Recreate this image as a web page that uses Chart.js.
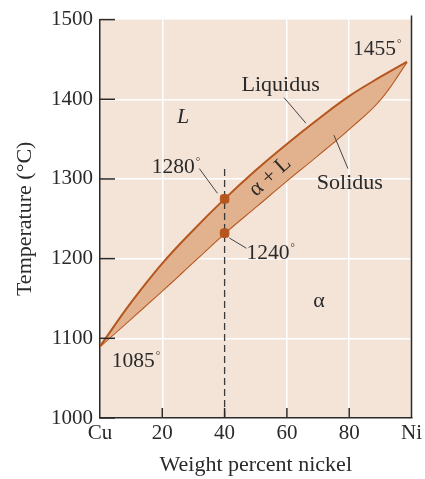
<!DOCTYPE html>
<html>
<head>
<meta charset="utf-8">
<script src="https://cdn.jsdelivr.net/npm/chart.js@4/dist/chart.umd.min.js"></script>
<style>
	html, body { margin: 0; padding: 0; background: #fff; }
	#wrap { width: 425px; height: 479px; }
</style>
</head>
<body>
<div id="wrap"><canvas id="phaseChart" width="425" height="479"></canvas></div>
<script>
// Cu-Ni phase diagram
const nickelPct = [0, 10, 20, 30, 40, 50, 60, 70, 80, 90, 98.5];
const liquidusT = [1090, 1145, 1194, 1236, 1275, 1311, 1344, 1375, 1404, 1428, 1447];
const solidusT = [1090, 1125, 1160, 1196, 1232, 1265, 1298, 1330, 1363, 1400, 1447];

// 40 wt% Ni alloy guide line
const alloyPct = [40, 40];
const alloyT = [1000, 1313];

const xTicks = [0, 20, 40, 60, 80, 100];
const xTickNames = ['Cu', '20', '40', '60', '80', 'Ni'];
const yTicks = [1000, 1100, 1200, 1300, 1400, 1500];

const plotBg = '#f4e3d7';
const bandFill = '#e2b18d';
const curveColor = '#b5561f';
const inkColor = '#2a2a2a';
const serif = '"Liberation Serif", "DejaVu Serif", serif';

// text placed in data units (wt% Ni, deg C)
const notes = [
	{ text: '1455', deg: true, x: 81.2, t: 1455, align: 'left' },
	{ text: 'Liquidus', x: 58, t: 1410, align: 'center' },
	{ text: 'L', italic: true, x: 26.7, t: 1370, align: 'center' },
	{ text: '1280', deg: true, x: 16.6, t: 1308, align: 'left' },
	{ text: '1240', deg: true, x: 47, t: 1200, align: 'left' },
	{ text: 'Solidus', x: 69.6, t: 1288, align: 'left' },
	{ text: 'α', x: 70.3, t: 1139, align: 'center' },
	{ text: '1085', deg: true, x: 3.8, t: 1064, align: 'left' },
	{ text: 'α + L', x: 54.6, t: 1303, align: 'center', rotate: -42, middle: true }
];
const leaders = [
	[59.1, 1402, 66.1, 1370],
	[75.1, 1355, 79.6, 1313],
	[31.9, 1313, 37.7, 1282],
	[41.5, 1226, 47, 1213]
];

const toPts = (xs, ys) => xs.map((x, i) => ({ x: x, y: ys[i] }));

const decor = {
	id: 'decor',
	beforeDraw(chart) {
		const { ctx, chartArea: a } = chart;
		ctx.save();
		ctx.fillStyle = plotBg;
		ctx.fillRect(a.left, a.top, a.right - a.left, a.bottom - a.top);
		ctx.restore();
	},
	afterDatasetsDraw(chart) {
		const { ctx, chartArea: a } = chart;
		const xs = chart.scales.x, ys = chart.scales.y;
		ctx.save();
		ctx.strokeStyle = inkColor;
		ctx.lineWidth = 1.5;
		// right border
		ctx.beginPath();
		ctx.moveTo(a.right, a.top - 4);
		ctx.lineTo(a.right, a.bottom);
		ctx.stroke();
		// inward tick marks
		yTicks.forEach(v => {
			const py = ys.getPixelForValue(v);
			ctx.beginPath();
			ctx.moveTo(a.left, py);
			ctx.lineTo(a.left + 15, py);
			ctx.stroke();
		});
		xTicks.slice(1, -1).forEach(v => {
			const px = xs.getPixelForValue(v);
			ctx.beginPath();
			ctx.moveTo(px, a.bottom);
			ctx.lineTo(px, a.bottom - 10);
			ctx.stroke();
		});
		// leader lines
		ctx.lineWidth = 1;
		ctx.strokeStyle = '#444';
		leaders.forEach(l => {
			ctx.beginPath();
			ctx.moveTo(xs.getPixelForValue(l[0]), ys.getPixelForValue(l[1]));
			ctx.lineTo(xs.getPixelForValue(l[2]), ys.getPixelForValue(l[3]));
			ctx.stroke();
		});
		// labels
		ctx.fillStyle = inkColor;
		notes.forEach(n => {
			const px = xs.getPixelForValue(n.x);
			const py = ys.getPixelForValue(n.t);
			ctx.save();
			ctx.translate(px, py);
			if (n.rotate) ctx.rotate(n.rotate * Math.PI / 180);
			ctx.font = (n.italic ? 'italic ' : '') + (n.deg ? '21.5px ' : '22px ') + serif;
			ctx.textAlign = n.align;
			ctx.textBaseline = n.middle ? 'middle' : 'alphabetic';
			ctx.fillText(n.text, 0, 0);
			if (n.deg) {
				const w = ctx.measureText(n.text).width;
				ctx.font = '11px ' + serif;
				ctx.textAlign = 'left';
				ctx.fillText('°', (n.align === 'left' ? w : w / 2) + 1, -8);
			}
			ctx.restore();
		});
		ctx.restore();
	}
};

new Chart(document.getElementById('phaseChart'), {
	type: 'scatter',
	data: {
		datasets: [{
			label: 'Liquidus',
			data: toPts(nickelPct, liquidusT),
			showLine: true,
			borderColor: curveColor,
			borderWidth: 2,
			backgroundColor: bandFill,
			fill: '+1',
			pointRadius: 0,
			tension: 0.4,
			order: 0
		}, {
			label: 'Solidus',
			data: toPts(nickelPct, solidusT),
			showLine: true,
			borderColor: curveColor,
			borderWidth: 2,
			pointRadius: 0,
			fill: false,
			tension: 0.4,
			order: 0
		}, {
			label: 'Alloy',
			data: toPts(alloyPct, alloyT),
			showLine: true,
			borderColor: '#3a3a3a',
			borderWidth: 1.3,
			borderDash: [7, 4],
			pointRadius: 0,
			fill: false,
			order: -1
		}, {
			label: 'Points',
			data: toPts(alloyPct, [liquidusT[4], solidusT[4]]),
			showLine: false,
			pointStyle: 'rectRounded',
			pointRadius: 5,
			backgroundColor: curveColor,
			borderColor: curveColor,
			order: -2
		}]
	},
	options: {
		responsive: false,
		animation: false,
		layout: { padding: { top: 19, right: 12, left: 0, bottom: 0 } },
		plugins: { legend: { display: false }, tooltip: { enabled: false } },
		scales: {
			x: {
				type: 'linear',
				min: 0,
				max: 100,
				afterFit: s => { s.height = 61; },
				afterBuildTicks: s => { s.ticks = xTicks.map(v => ({ value: v })); },
				ticks: {
					padding: 3,
					color: inkColor,
					font: { family: serif, size: 21 },
					callback: v => xTickNames[xTicks.indexOf(v)]
				},
				grid: {
					drawTicks: false,
					lineWidth: 1.5,
					color: c => (c.tick && [20, 60, 80].includes(c.tick.value)) ? '#ffffff' : 'rgba(0,0,0,0)'
				},
				border: { display: true, color: inkColor, width: 1.5 },
				title: {
					display: true,
					text: 'Weight percent nickel',
					color: inkColor,
					font: { family: serif, size: 22 },
					padding: { top: 0, bottom: 1 }
				}
			},
			y: {
				type: 'linear',
				min: 1000,
				max: 1500,
				afterFit: s => { s.width = 100; },
				afterBuildTicks: s => { s.ticks = yTicks.map(v => ({ value: v })); },
				ticks: {
					padding: 7,
					color: inkColor,
					font: { family: serif, size: 21 },
					callback: v => String(v)
				},
				grid: {
					drawTicks: false,
					lineWidth: 1.5,
					color: c => (c.tick && c.tick.value > 1000 && c.tick.value < 1500) ? '#ffffff' : 'rgba(0,0,0,0)'
				},
				border: { display: true, color: inkColor, width: 1.5 },
				title: {
					display: true,
					text: 'Temperature (°C)',
					color: inkColor,
					font: { family: serif, size: 22 },
					padding: { top: 12, bottom: 0 }
				}
			}
		}
	},
	plugins: [decor]
});
</script>
</body>
</html>
